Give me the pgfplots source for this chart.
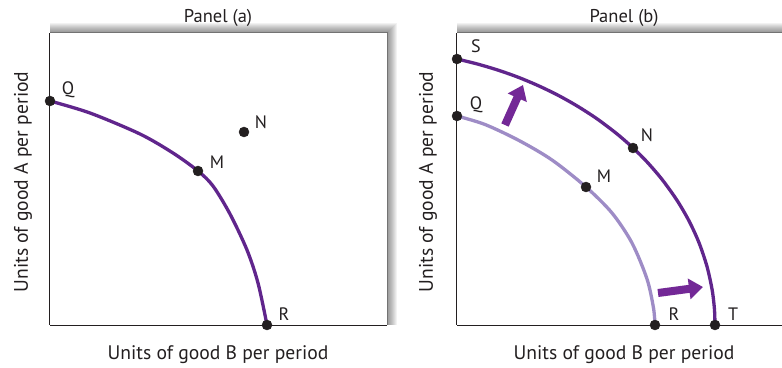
\documentclass[border=0pt]{standalone}
\usepackage{pgfplots}
\pgfplotsset{compat=1.18}
\usepackage{fontspec}
\setmainfont{PT Sans}
\usetikzlibrary{arrows.meta}

\definecolor{ppf}{RGB}{96,37,140}
\definecolor{ppflight}{RGB}{158,140,198}
\definecolor{arrowc}{RGB}{115,40,150}
\definecolor{ink}{RGB}{35,31,32}

\pgfplotsset{
  ppfaxis/.style={
    set layers, scale only axis, height=292pt,
    ymin=0, ymax=292,
    axis x line=bottom, axis y line=left,
    axis line style={-, line width=3pt, color=ink},
    xtick=\empty, ytick=\empty, clip=false,
  },
}
\tikzset{lbl/.style={font=\fontsize{18}{20}\selectfont, text=ink}}

\begin{document}
\begin{tikzpicture}[x=1pt,y=1pt]
% soft shadow behind the two frames
\foreach \k in {1,...,10} {
  \fill[black,opacity=0.05] (50,42) rectangle (387+\k,334+\k);
  \fill[black,opacity=0.05] (457,42) rectangle (800,334+\k);
}
\fill[white] (50,42) rectangle (387,334);
\fill[white] (457,42) rectangle (800,334);
\draw[black!55, line width=1pt] (50,334) -- (387,334) -- (387,42);
\draw[black!55, line width=1pt] (457,334) -- (800,334);

% Panel (a)
\begin{axis}[ppfaxis, at={(50pt,42pt)}, anchor=south west,
  width=337pt, xmin=0, xmax=337]
\addplot[ppf, line width=3.3pt, smooth] coordinates {
  (0,224) (40,212) (90,191) (123,172) (148,154) (163,139)
  (180,111) (197,75) (208,42) (217,0)};
\addplot[only marks, mark=*, mark size=5pt, color=ink] coordinates {
  (0,224) (148,154) (194,193) (217,0)};
\node[lbl] at (axis cs:18,235) {Q};
\node[lbl] at (axis cs:211,203) {N};
\node[lbl] at (axis cs:167,163) {M};
\node[lbl] at (axis cs:234,11) {R};
\end{axis}

% Panel (b)
\begin{axis}[ppfaxis, at={(457pt,42pt)}, anchor=south west,
  width=340pt, xmin=0, xmax=340]
\addplot[ppflight, line width=3.3pt, smooth] coordinates {
  (0,209) (28,200.5) (62,184.5) (95,165) (129,138) (155,112)
  (175,82) (190,46) (196.5,17) (198,0)};
\addplot[ppf, line width=3.3pt, smooth] coordinates {
  (0,266) (20,261.1) (40,255.2) (60,248.2) (80,239.9) (100,230.3)
  (120,219.1) (140,206.2) (160,191.1) (176,177.1) (190,163.1)
  (205,145.6) (220,124.7) (232,104.1) (242,82.3) (250,58.5)
  (255,36) (257,20.8) (257.7,11.4) (258,0)};
\addplot[only marks, mark=*, mark size=5pt, color=ink] coordinates {
  (0,266) (0,209) (129,138) (176,177) (198,0) (258,0)};
\draw[arrowc, line width=8pt, -{Triangle[length=14pt,width=20pt]}]
  (axis cs:48,200) -- (axis cs:66,240);
\draw[arrowc, line width=8pt, -{Triangle[length=14pt,width=20pt]}]
  (axis cs:201,32) -- (axis cs:246,38);
\node[lbl] at (axis cs:19,279) {S};
\node[lbl] at (axis cs:19,220) {Q};
\node[lbl] at (axis cs:190,190) {N};
\node[lbl] at (axis cs:147,149) {M};
\node[lbl] at (axis cs:217,11) {R};
\node[lbl] at (axis cs:276,11) {T};
\end{axis}

% titles and axis labels
\begin{scope}[every node/.style={font=\fontsize{18.5}{21}\selectfont, text=ink}]
\node at (218,349) {Panel (a)};
\node at (624,349) {Panel (b)};
\end{scope}
\begin{scope}[every node/.style={font=\fontsize{19.6}{22}\selectfont, text=ink}]
\node at (218,12) {Units of good B per period};
\node at (624,12) {Units of good B per period};
\node[rotate=90] at (23,185) {Units of good A per period};
\node[rotate=90] at (428,185) {Units of good A per period};
\end{scope}
\pgfresetboundingbox
\path[use as bounding box] (0,0) rectangle (782,367);
\end{tikzpicture}
\end{document}
